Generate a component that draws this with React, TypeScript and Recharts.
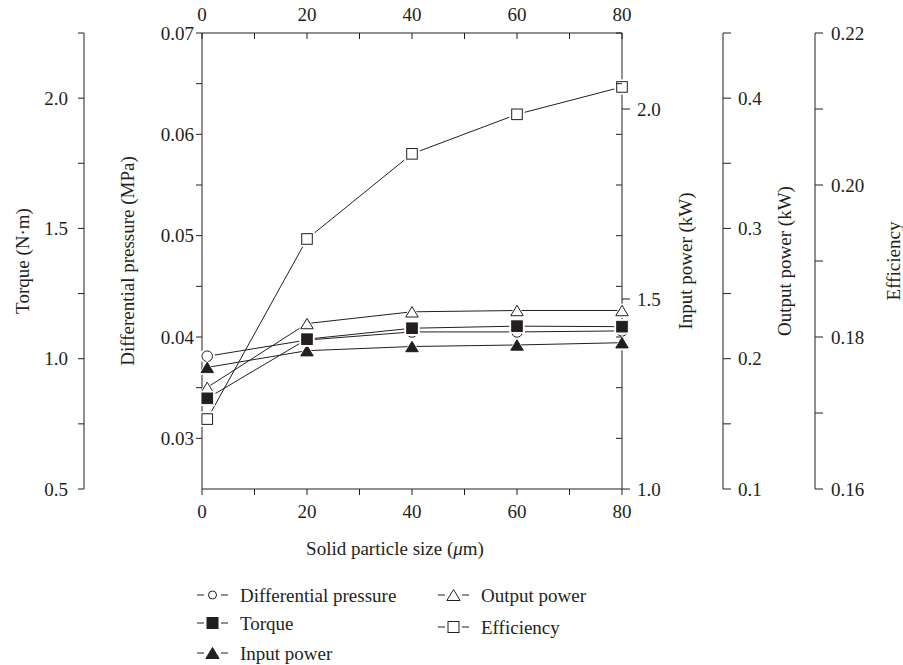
import { LineChart, Line, XAxis, YAxis } from "recharts";

const INK = "#231f20";
const FONT = '"Liberation Serif", "Times New Roman", serif';
const FS = 19;

// solid particle size (µm)
const sizes = [1, 20, 40, 60, 80];
const diffPressure = [0.0381, 0.0397, 0.0405, 0.0405, 0.0406]; // MPa
const torque = [0.848, 1.075, 1.117, 1.125, 1.123]; // N·m
const inputPower = [1.32, 1.364, 1.375, 1.379, 1.385]; // kW
const outputPower = [0.178, 0.227, 0.236, 0.237, 0.237]; // kW
const efficiency = [0.1692, 0.1929, 0.2041, 0.2093, 0.2129];

const xTicks = [0, 10, 20, 30, 40, 50, 60, 70, 80];
const dpTicks = [0.03, 0.035, 0.04, 0.045, 0.05, 0.055, 0.06, 0.065, 0.07];
const torqueTicks = [0.5, 0.75, 1, 1.25, 1.5, 1.75, 2, 2.25];
const inputTicks = [1, 1.5, 2];
const outputTicks = [0.1, 0.15, 0.2, 0.25, 0.3, 0.35, 0.4, 0.45];
const effTicks = [0.16, 0.17, 0.18, 0.19, 0.2, 0.21, 0.22];

const rows = sizes.map((size, i) => ({
  size,
  dp: diffPressure[i],
  torque: torque[i],
  input: inputPower[i],
  output: outputPower[i],
  eff: efficiency[i],
}));

type Shape = "circle" | "square" | "triangle";

// axis ids are prefixed so the stacking order (sorted by id) matches the figure
const series: { key: string; axis: string; name: string; shape: Shape; filled: boolean }[] = [
  { key: "eff", axis: "r3eff", name: "Efficiency", shape: "square", filled: false },
  { key: "dp", axis: "l1dp", name: "Differential pressure", shape: "circle", filled: false },
  { key: "output", axis: "r2output", name: "Output power", shape: "triangle", filled: false },
  { key: "input", axis: "r1input", name: "Input power", shape: "triangle", filled: true },
  { key: "torque", axis: "l2torque", name: "Torque", shape: "square", filled: true },
];

// legend order as printed: left column then right column
const legendCols = [
  ["dp", "torque", "input"],
  ["output", "eff"],
];

const RIGHT_AXES_W = 101 + 92 + 88;
const PLOT_RIGHT = 903 - RIGHT_AXES_W;

function Marker({ cx, cy, shape, filled, s, halo }: any) {
  const fill = filled ? INK : "#fff";
  const draw = (k: number, f: string, stroke: string) => {
    if (shape === "circle") return <circle cx={cx} cy={cy} r={s * k} fill={f} stroke={stroke} />;
    if (shape === "square")
      return <rect x={cx - s * k} y={cy - s * k} width={2 * s * k} height={2 * s * k} fill={f} stroke={stroke} />;
    const w = s * 1.2 * k;
    const h = s * k;
    return (
      <polygon
        points={`${cx},${cy - h} ${cx - w},${cy + h} ${cx + w},${cy + h}`}
        fill={f}
        stroke={stroke}
        strokeLinejoin="miter"
      />
    );
  };
  return (
    <g>
      {halo ? draw(1.45, "#fff", "none") : null}
      {draw(1, fill, INK)}
    </g>
  );
}

const axisTitle = (text: string, dx: number) => (props: any) => {
  const vb = props.viewBox;
  const x = vb.x + dx;
  const y = vb.y + vb.height / 2;
  return (
    <text
      x={x}
      y={y}
      transform={`rotate(-90 ${x} ${y})`}
      textAnchor="middle"
      dominantBaseline="central"
      fill={INK}
      fontSize={FS}
      fontFamily={FONT}
    >
      {text}
    </text>
  );
};

const bottomTitle = (props: any) => {
  const vb = props.viewBox;
  return (
    <text x={vb.x + 193} y={vb.y + 59} textAnchor="middle" dominantBaseline="central" fill={INK} fontSize={FS} fontFamily={FONT}>
      Solid particle size (<tspan fontStyle="italic">μ</tspan>m)
    </text>
  );
};

const TopTick = (props: any) => {
  const { x, y, payload } = props;
  return (
    <g>
      <line x1={x} y1={y + 12} x2={x} y2={y + 18} stroke={INK} />
      {payload.value % 20 === 0 ? (
        <text x={x} y={y} textAnchor="middle" fill={INK} fontSize={FS} fontFamily={FONT}>
          {payload.value}
        </text>
      ) : null}
    </g>
  );
};

// differential-pressure tick: label on the left, plus an inward tick on the right frame edge
const DpTick = (props: any) => {
  const { x, y, payload } = props;
  const v = payload.value as number;
  const major = Math.round(v * 1000) % 10 === 0;
  return (
    <g>
      <line x1={PLOT_RIGHT} y1={y} x2={PLOT_RIGHT - 6} y2={y} stroke={INK} />
      {major ? (
        <text x={x} y={y} textAnchor="end" dominantBaseline="central" fill={INK} fontSize={FS} fontFamily={FONT}>
          {v.toFixed(2)}
        </text>
      ) : null}
    </g>
  );
};

const tickStyle = { fontSize: FS, fill: INK, fontFamily: FONT };

export default function App() {
  return (
    <div style={{ position: "absolute", left: 0, top: 0, width: 903, height: 665, background: "#fff", fontFamily: FONT }}>
      <LineChart width={903} height={665} data={rows} margin={{ top: 0, right: 0, bottom: 96, left: 0 }}>
        <XAxis
          xAxisId="bottom"
          dataKey="size"
          type="number"
          domain={[0, 80]}
          ticks={xTicks}
          interval={0}
          height={80}
          stroke={INK}
          tickSize={6}
          tickMargin={10}
          tick={tickStyle}
          tickFormatter={(v: number) => (v % 20 === 0 ? String(v) : "")}
          label={bottomTitle}
        />
        <XAxis
          xAxisId="top"
          orientation="top"
          dataKey="size"
          type="number"
          domain={[0, 80]}
          ticks={xTicks}
          interval={0}
          height={33}
          stroke={INK}
          tickLine={false}
          tickSize={0}
          tickMargin={12}
          tick={<TopTick />}
        />
        <YAxis
          yAxisId="l1dp"
          type="number"
          domain={[0.025, 0.07]}
          allowDataOverflow
          ticks={dpTicks}
          interval={0}
          width={118}
          stroke={INK}
          tickSize={6}
          tickMargin={2}
          tick={<DpTick />}
          label={axisTitle("Differential pressure (MPa)", 43)}
        />
        <YAxis
          yAxisId="l2torque"
          type="number"
          domain={[0.5, 2.25]}
          allowDataOverflow
          ticks={torqueTicks}
          interval={0}
          width={84}
          stroke={INK}
          tickSize={6}
          tickMargin={10}
          tick={tickStyle}
          tickFormatter={(v: number) => (Number.isInteger(v * 2) && v < 2.2 ? v.toFixed(1) : "")}
          label={axisTitle("Torque (N·m)", 22)}
        />
        <YAxis
          yAxisId="r1input"
          orientation="right"
          type="number"
          domain={[1, 2.2]}
          allowDataOverflow
          ticks={inputTicks}
          interval={0}
          width={101}
          stroke={INK}
          tickSize={8}
          tickMargin={7}
          tick={tickStyle}
          tickFormatter={(v: number) => v.toFixed(1)}
          label={axisTitle("Input power (kW)", 63)}
        />
        <YAxis
          yAxisId="r2output"
          orientation="right"
          type="number"
          domain={[0.1, 0.45]}
          allowDataOverflow
          ticks={outputTicks}
          interval={0}
          width={92}
          stroke={INK}
          tickSize={8}
          tickMargin={7}
          tick={tickStyle}
          tickFormatter={(v: number) => (Math.round(v * 100) % 10 === 0 && v < 0.42 ? v.toFixed(1) : "")}
          label={axisTitle("Output power (kW)", 61)}
        />
        <YAxis
          yAxisId="r3eff"
          orientation="right"
          type="number"
          domain={[0.16, 0.22]}
          allowDataOverflow
          ticks={effTicks}
          interval={0}
          width={88}
          stroke={INK}
          tickSize={8}
          tickMargin={8}
          tick={tickStyle}
          tickFormatter={(v: number) => (Math.round(v * 100) % 2 === 0 ? v.toFixed(2) : "")}
          label={axisTitle("Efficiency", 78)}
        />
        {series.map((s) => (
          <Line
            key={s.key}
            xAxisId="bottom"
            yAxisId={s.axis}
            dataKey={s.key}
            name={s.name}
            type="linear"
            stroke={INK}
            strokeWidth={1}
            isAnimationActive={false}
            activeDot={false}
            dot={(p: any) => (
              <Marker
                key={`${s.key}-${p.index}`}
                cx={p.cx}
                cy={p.cy}
                shape={s.shape}
                filled={s.filled}
                s={s.shape === "triangle" ? 5.2 : 5.3}
                halo
              />
            )}
          />
        ))}
      </LineChart>
      <svg width={903} height={665} style={{ position: "absolute", left: 0, top: 0, pointerEvents: "none" }}>
        {legendCols.map((col, ci) =>
          col.map((key, ri) => {
            const s = series.find((d) => d.key === key)!;
            const x0 = ci === 0 ? 197 : 438;
            const y = ci === 0 ? [595, 623, 653][ri] : [595, 627][ri];
            const small = s.shape === "circle" && ci === 0;
            return (
              <g key={key}>
                <line x1={x0} y1={y} x2={x0 + 7} y2={y} stroke={INK} />
                <line x1={x0 + 24} y1={y} x2={x0 + 31} y2={y} stroke={INK} />
                <Marker cx={x0 + 15.5} cy={y} shape={s.shape} filled={s.filled} s={small ? 4 : 5.5} />
                <text x={x0 + 43} y={y} dominantBaseline="central" fill={INK} fontSize={FS} fontFamily={FONT}>
                  {s.name}
                </text>
              </g>
            );
          })
        )}
      </svg>
    </div>
  );
}
